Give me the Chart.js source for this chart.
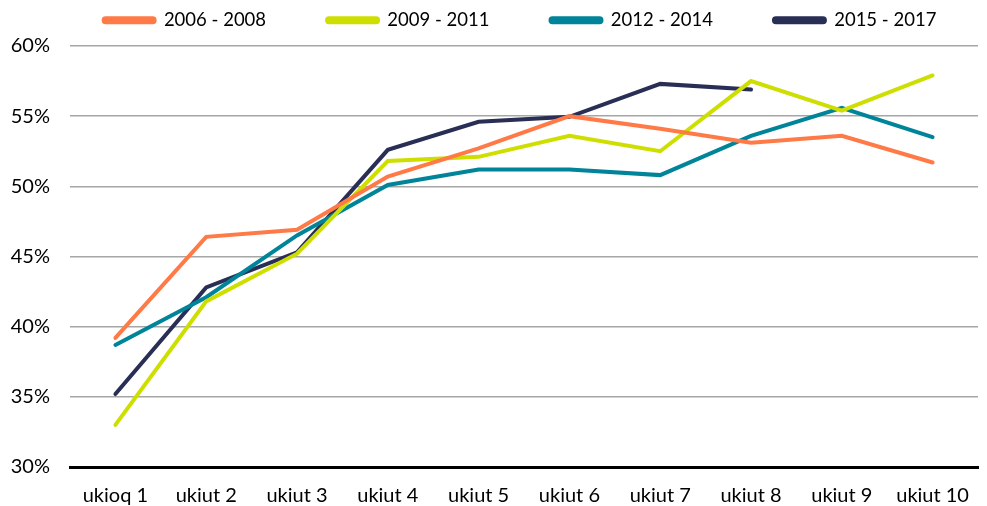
<!DOCTYPE html>
<html lang="en">
<head>
    <meta charset="UTF-8">
    <title>Line chart</title>
    <style>
        html, body {
            margin: 0;
            padding: 0;
            background: #fff;
        }

        .chart-container {
            width: 987px;
            height: 506px;
        }
    </style>
</head>
<body>
    <div class="chart-container">
        <canvas id="lineChart"></canvas>
    </div>

    <script src="https://cdn.jsdelivr.net/npm/chart.js"></script>
    <script>
        // Categories along the x axis
        const categories = ['ukioq 1', 'ukiut 2', 'ukiut 3', 'ukiut 4', 'ukiut 5',
            'ukiut 6', 'ukiut 7', 'ukiut 8', 'ukiut 9', 'ukiut 10'];

        // Series (percent)
        const series2006 = [39.2, 46.4, 46.9, 50.7, 52.7, 55.0, 54.1, 53.1, 53.6, 51.7];
        const series2009 = [33.0, 41.8, 45.2, 51.8, 52.1, 53.6, 52.5, 57.5, 55.4, 57.9];
        const series2012 = [38.7, 42.1, 46.5, 50.1, 51.2, 51.2, 50.8, 53.6, 55.6, 53.5];
        const series2015 = [35.2, 42.8, 45.3, 52.6, 54.6, 54.95, 57.3, 56.9, null, null];

        const seriesLabels = ['2006 - 2008', '2009 - 2011', '2012 - 2014', '2015 - 2017'];
        const seriesColors = ['#FF7A47', '#CEDF00', '#00849A', '#292E55'];

        // y axis ticks
        const yMin = 30;
        const yMax = 60;
        const yStep = 5;

        const allSeries = [series2006, series2009, series2012, series2015];

        // legend: wide gaps between items but a short box on top
        const legendHeight = 42;
        const legendItemTop = 7;
        const legendShiftX = 31;
        const legendGap = {
            id: 'legendGap',
            beforeLayout(chart) {
                const legend = chart.legend;
                if (!legend || legend._gapPatched) return;
                const fit = legend.fit;
                legend.fit = function () {
                    fit.call(this);
                    this.height = legendHeight;
                };
                const draw = legend.draw;
                legend.draw = function () {
                    const shiftY = this.options.labels.padding - legendItemTop;
                    this.top -= shiftY;
                    this.left += legendShiftX;
                    this.right += legendShiftX;
                    draw.call(this);
                    this.top += shiftY;
                    this.left -= legendShiftX;
                    this.right -= legendShiftX;
                };
                legend._gapPatched = true;
            }
        };

        const ctx = document.getElementById('lineChart').getContext('2d');
        const lineChart = new Chart(ctx, {
            type: 'line',
            data: {
                labels: categories,
                datasets: allSeries.map((values, i) => ({
                    label: seriesLabels[i],
                    data: values,
                    borderColor: seriesColors[i],
                    backgroundColor: seriesColors[i],
                    borderWidth: 4,
                    pointRadius: 0,
                    tension: 0,
                    borderCapStyle: 'round',
                    spanGaps: false
                }))
            },
            plugins: [legendGap],
            options: {
                responsive: true,
                maintainAspectRatio: false,
                animation: false,
                layout: {
                    padding: { left: 0, right: 9, top: 4, bottom: 0 }
                },
                plugins: {
                    legend: {
                        position: 'top',
                        labels: {
                            boxWidth: 51,
                            boxHeight: 4,
                            padding: 61,
                            useBorderRadius: true,
                            borderRadius: 2,
                            color: '#000',
                            font: { family: 'Lato', size: 18.5 }
                        }
                    },
                    tooltip: { enabled: false }
                },
                scales: {
                    x: {
                        offset: true,
                        grid: { display: false },
                        border: { display: true, color: '#000', width: 3 },
                        ticks: {
                            color: '#000',
                            padding: 9,
                            maxRotation: 0,
                            font: { family: 'Lato', size: 20 }
                        },
                        afterFit: function (scale) {
                            scale.height = 39;
                        }
                    },
                    y: {
                        min: yMin,
                        max: yMax,
                        grid: {
                            color: '#A6A6A6',
                            lineWidth: 1.5,
                            drawTicks: false
                        },
                        border: { display: false },
                        ticks: {
                            stepSize: yStep,
                            color: '#000',
                            padding: 20,
                            font: { family: 'Lato', size: 20 },
                            callback: function (value) {
                                return value + '%';
                            }
                        },
                        afterFit: function (scale) {
                            scale.width = 70;
                        }
                    }
                }
            }
        });
    </script>
</body>
</html>
